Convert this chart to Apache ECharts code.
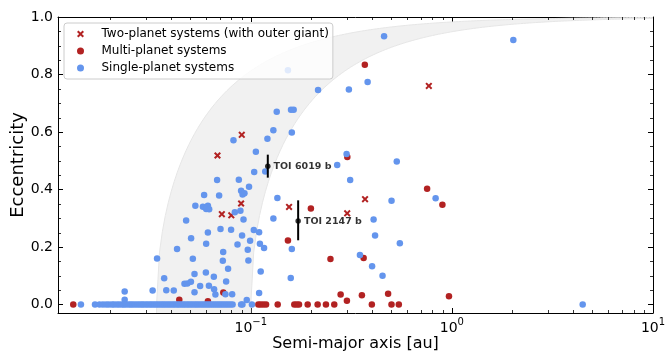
<!DOCTYPE html>
<html>
<head>
<meta charset="utf-8">
<script src="https://cdn.jsdelivr.net/npm/echarts@6/dist/echarts.min.js"></script>
<style>
  html, body { margin: 0; padding: 0; background: #fff; }
  #chart { width: 665px; height: 354px; }
</style>
</head>
<body>
<div id="chart"></div>
<script>
// semi-major axis [au], eccentricity
const twoPlanet = [
  [0.0902, 0.59], [0.0683, 0.518], [0.0895, 0.351], [0.0718, 0.314], [0.080, 0.310],
  [0.155, 0.339], [0.3016, 0.317], [0.370, 0.366], [0.768, 0.76]
];
const multiPlanet = [
  [0.0131, 0], [0.0441, 0.016], [0.0612, 0.011], [0.073, 0.041], [0.1091, 0], [0.1121, 0],
  [0.1155, 0], [0.1191, 0], [0.1361, 0], [0.153, 0.222], [0.1646, 0], [0.1692, 0],
  [0.1737, 0], [0.1918, 0], [0.199, 0.334], [0.215, 0], [0.2364, 0], [0.249, 0.158],
  [0.2601, 0], [0.2797, 0.034], [0.3006, 0.013], [0.302, 0.513], [0.3568, 0.032],
  [0.364, 0.161], [0.369, 0.834], [0.3999, 0], [0.4818, 0.037], [0.5008, 0], [0.5445, 0],
  [0.753, 0.402], [0.897, 0.347], [0.967, 0.028]
];
const singlePlanet = [
  [0.082, 0.571], [0.106, 0.531], [0.104, 0.461], [0.068, 0.433], [0.0872, 0.434],
  [0.098, 0.409], [0.0895, 0.395], [0.091, 0.382], [0.093, 0.387], [0.0586, 0.381],
  [0.0696, 0.379], [0.053, 0.343], [0.0578, 0.34], [0.0612, 0.343], [0.06, 0.332],
  [0.0621, 0.331], [0.0888, 0.326], [0.0833, 0.321], [0.0477, 0.292], [0.092, 0.295],
  [0.0612, 0.25], [0.0707, 0.262], [0.0798, 0.26], [0.0905, 0.24], [0.1035, 0.259],
  [0.11, 0.251], [0.0505, 0.23], [0.06, 0.211], [0.0859, 0.208], [0.0992, 0.221],
  [0.043, 0.193], [0.0729, 0.182], [0.0966, 0.19], [0.0342, 0.16], [0.0515, 0.159],
  [0.0726, 0.152], [0.0973, 0.153], [0.0771, 0.124], [0.0525, 0.106], [0.0598, 0.111],
  [0.0655, 0.096], [0.0371, 0.091], [0.0468, 0.072], [0.0484, 0.073], [0.0504, 0.079],
  [0.0754, 0.08], [0.0619, 0.065], [0.0657, 0.053], [0.056, 0.064], [0.0525, 0.042],
  [0.0667, 0.034], [0.0748, 0.035], [0.0808, 0.035], [0.0236, 0.045], [0.0325, 0.048],
  [0.038, 0.049], [0.0414, 0.048], [0.0955, 0.015], [0.0236, 0.016], [0.11, 0.04],
  [0.158, 0.092], [0.112, 0.114], [0.111, 0.211], [0.1164, 0.196], [0.1295, 0.299],
  [0.16, 0.193], [0.408, 0.295], [0.415, 0.24], [0.551, 0.2125], [0.349, 0.172],
  [0.401, 0.133], [0.452, 0.1], [0.1346, 0.67], [0.1585, 0.677], [0.1634, 0.677],
  [0.1295, 0.606], [0.16, 0.598], [0.121, 0.576], [0.2995, 0.523], [0.269, 0.485],
  [0.532, 0.497], [0.118, 0.462], [0.312, 0.433], [0.83, 0.369], [0.1356, 0.37],
  [0.501, 0.361], [0.46, 0.933], [0.153, 0.815], [0.381, 0.774], [0.216, 0.746],
  [0.3075, 0.748], [2.02, 0.92]
];
// single-planet systems on circular orbits (e = 0)
const singleCircularA = [
  0.0143, 0.0168, 0.0177, 0.0184, 0.0191, 0.0197, 0.0204, 0.0209, 0.0216, 0.0222, 0.0229,
  0.0234, 0.024, 0.0247, 0.0253, 0.0259, 0.0266, 0.0273, 0.028, 0.0287, 0.0293, 0.0301,
  0.0308, 0.0316, 0.0323, 0.0331, 0.0339, 0.0347, 0.0356, 0.0364, 0.0372, 0.0381, 0.039,
  0.0399, 0.0409, 0.0418, 0.0429, 0.0438, 0.0449, 0.046, 0.047, 0.0482, 0.0493, 0.0505,
  0.0517, 0.053, 0.0542, 0.0555, 0.0569, 0.0582, 0.0596, 0.061, 0.0625, 0.064, 0.0655,
  0.0671, 0.0687, 0.0703, 0.072, 0.0737, 0.0755, 0.0773, 0.0792, 0.0812, 0.0895, 0.0909,
  0.1013, 4.47
];
const toiNames = ['TOI 6019 b', 'TOI 2147 b'];
const toiA = [0.1215, 0.172];
const toiE = [0.481, 0.290];
const toiELo = [0.441, 0.223];
const toiEHi = [0.521, 0.362];

// shaded band: a(1 - e^2) between these two values
const bandInner = 0.034;
const bandOuter = 0.1;

const xMinorTicks = [0.02, 0.03, 0.04, 0.05, 0.06, 0.07, 0.08, 0.09,
  0.2, 0.3, 0.4, 0.5, 0.6, 0.7, 0.8, 0.9, 2, 3, 4, 5, 6, 7, 8, 9];
const yMinorTicks = [0.05, 0.1, 0.15, 0.25, 0.3, 0.35, 0.45, 0.5, 0.55,
  0.65, 0.7, 0.75, 0.85, 0.9, 0.95];

const names = ['Two-planet systems (with outer giant)', 'Multi-planet systems', 'Single-planet systems'];
const xPath = 'path://M2,0L5,3L8,0L10,2L7,5L10,8L8,10L5,7L2,10L0,8L3,5L0,2Z';
const font = 'DejaVu Sans';

let chart = echarts.init(document.getElementById('chart'));

function bandCurve(c) {
  let pts = [[c, -0.05]];
  for (let i = 0; i <= 240; i++) {
    let a = c * Math.pow(10, i * 3.5 / 240);
    pts.push([a, Math.sqrt(1 - c / a)]);
  }
  return pts;
}

function xLabel(v) {
  let p = Math.log10(v);
  if (Math.abs(p - Math.round(p)) > 1e-6) return '';
  let r = Math.round(p);
  return '{b|10}{s|' + (r < 0 ? '\u2212' + (-r) : r) + '}';
}
function yLabel(v) {
  let k = v / 0.2;
  if (Math.abs(k - Math.round(k)) > 1e-6 || v < 0) return '';
  return v.toFixed(1);
}

const axisCommon = {
  axisLine: { onZero: false, lineStyle: { color: '#000', width: 1 } },
  axisTick: { inside: true, length: 5, lineStyle: { color: '#000', width: 1 } },
  splitLine: { show: false },
  minorTick: { show: false }
};

chart.setOption({
  animation: false,
  grid: { left: 58, right: 12, top: 17, bottom: 41, outerBoundsMode: 'none', containLabel: false },
  xAxis: [
    Object.assign({
      type: 'log', logBase: 10, min: 0.011, max: 10, position: 'bottom',
      name: 'Semi-major axis [au]', nameLocation: 'middle', nameGap: 23, nameMoveOverlap: false,
      nameTextStyle: { fontSize: 16, color: '#000', fontFamily: font },
      axisLabel: {
        margin: 4, formatter: xLabel, color: '#000', fontFamily: font,
        rich: {
          b: { fontSize: 14, fontFamily: font, color: '#000', lineHeight: 18, verticalAlign: 'bottom' },
          s: { fontSize: 10, fontFamily: font, color: '#000', lineHeight: 10, verticalAlign: 'top' }
        }
      }
    }, axisCommon),
    Object.assign({
      type: 'log', logBase: 10, min: 0.011, max: 10, position: 'top',
      axisLabel: { show: false }
    }, axisCommon)
  ],
  yAxis: [
    Object.assign({
      type: 'value', min: -0.03, max: 1.0, position: 'left',
      name: 'Eccentricity', nameLocation: 'middle', nameGap: 31, nameMoveOverlap: false,
      nameTextStyle: { fontSize: 18, color: '#000', fontFamily: font },
      axisLabel: { margin: 5, formatter: yLabel, fontSize: 14, color: '#000', fontFamily: font }
    }, axisCommon),
    Object.assign({
      type: 'value', min: -0.03, max: 1.0, position: 'right',
      axisLabel: { show: false }
    }, axisCommon)
  ],
  legend: {
    orient: 'vertical', left: 64, top: 23, align: 'left',
    itemWidth: 32, itemHeight: 7, itemGap: 5,
    padding: [5, 4, 5, 13],
    backgroundColor: 'rgba(255,255,255,0.8)',
    borderColor: '#cccccc', borderWidth: 1, borderRadius: 3,
    selectedMode: false,
    textStyle: { fontSize: 12, color: '#000', fontFamily: font },
    data: [
      { name: names[0], icon: xPath },
      { name: names[1], icon: 'circle' },
      { name: names[2], icon: 'circle' }
    ]
  },
  series: [
    {
      type: 'custom', name: 'band', coordinateSystem: 'cartesian2d', clip: true,
      silent: true, z: 1, data: [0],
      renderItem: function (params, api) {
        let inner = bandCurve(bandInner);
        let outer = bandCurve(bandOuter).reverse();
        let pts = inner.concat(outer).map(p => api.coord(p));
        return {
          type: 'polygon',
          shape: { points: pts },
          style: { fill: '#f1f1f1', stroke: '#e6e6e6', lineWidth: 1 }
        };
      }
    },
    {
      type: 'scatter', name: names[0], data: twoPlanet, symbol: xPath, symbolSize: 7,
      itemStyle: { color: '#B22222', opacity: 1 }, z: 3
    },
    {
      type: 'scatter', name: names[1], data: multiPlanet, symbol: 'circle', symbolSize: 6.5,
      itemStyle: { color: '#B22222', opacity: 1 }, z: 3
    },
    {
      type: 'scatter', name: names[2],
      data: singlePlanet.concat(singleCircularA.map(a => [a, 0])),
      symbol: 'circle', symbolSize: 6.5,
      itemStyle: { color: '#6495ED', opacity: 1 }, z: 3
    },
    {
      type: 'custom', name: 'errors', coordinateSystem: 'cartesian2d', silent: true, z: 5,
      data: toiA.map((a, i) => [a, toiELo[i], toiEHi[i]]),
      renderItem: function (params, api) {
        let lo = api.coord([api.value(0), api.value(1)]);
        let hi = api.coord([api.value(0), api.value(2)]);
        return {
          type: 'line',
          shape: { x1: lo[0], y1: lo[1], x2: hi[0], y2: hi[1] },
          style: { stroke: '#000', lineWidth: 2 }
        };
      }
    },
    {
      type: 'scatter', name: 'TOI', z: 6,
      data: toiA.map((a, i) => ({ name: toiNames[i], value: [a, toiE[i]] })),
      symbol: 'circle', symbolSize: 5.5,
      itemStyle: { color: '#000' },
      label: {
        show: true, position: 'right', distance: 3, formatter: '{b}',
        fontSize: 9.5, fontWeight: 'bold', color: '#000', fontFamily: font
      }
    }
  ]
});

// minor ticks on all four sides
function minorTicks() {
  let g = chart.getModel().getComponent('grid').coordinateSystem.getRect();
  let els = [];
  let st = { stroke: '#000', lineWidth: 0.8 };
  xMinorTicks.forEach(v => {
    let x = Math.round(chart.convertToPixel({ xAxisIndex: 0 }, v)) + 0.5;
    els.push({ type: 'line', silent: true, z: 10, shape: { x1: x, y1: g.y + g.height, x2: x, y2: g.y + g.height - 3 }, style: st });
    els.push({ type: 'line', silent: true, z: 10, shape: { x1: x, y1: g.y, x2: x, y2: g.y + 3 }, style: st });
  });
  yMinorTicks.forEach(v => {
    let y = Math.round(chart.convertToPixel({ yAxisIndex: 0 }, v)) + 0.5;
    els.push({ type: 'line', silent: true, z: 10, shape: { x1: g.x, y1: y, x2: g.x + 3, y2: y }, style: st });
    els.push({ type: 'line', silent: true, z: 10, shape: { x1: g.x + g.width, y1: y, x2: g.x + g.width - 3, y2: y }, style: st });
  });
  chart.setOption({ graphic: { elements: els } });
}
minorTicks();
</script>
</body>
</html>
